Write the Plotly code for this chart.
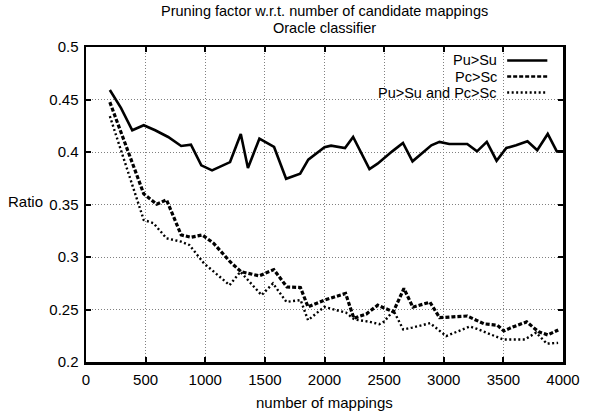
import plotly.graph_objects as go

# ---- data ----
pu_x = [200, 293, 388, 484, 580, 689, 798, 880, 967, 1057, 1208, 1298, 1358, 1454, 1577,
        1678, 1796, 1864, 2000, 2055, 2172, 2240, 2377, 2445, 2568, 2658, 2738, 2896, 2964,
        3046, 3197, 3279, 3361, 3443, 3525, 3607, 3702, 3784, 3872, 3948, 4000]
pu_y = [0.459, 0.442, 0.4207, 0.4255, 0.4207, 0.4143, 0.4057, 0.407, 0.3873, 0.3825, 0.3904,
        0.4172, 0.3847, 0.4127, 0.4048, 0.3745, 0.3793, 0.3927, 0.4045, 0.406, 0.4038, 0.4143,
        0.3838, 0.3889, 0.4006, 0.4086, 0.3911, 0.4064, 0.4096, 0.4076, 0.4076, 0.4006, 0.4096,
        0.3917, 0.4038, 0.4064, 0.4102, 0.4016, 0.4172, 0.4006, 0.4006]

pc_x = [200, 484, 593, 675, 798, 880, 975, 1071, 1208, 1300, 1452, 1575, 1685, 1798, 1862,
        1998, 2177, 2246, 2351, 2446, 2500, 2577, 2666, 2741, 2884, 2965, 3076, 3197, 3340,
        3450, 3504, 3579, 3695, 3797, 3872, 3960]
pc_y = [0.4475, 0.3602, 0.3503, 0.3545, 0.321, 0.3188, 0.321, 0.313, 0.2955, 0.286, 0.282,
        0.288, 0.2714, 0.271, 0.2525, 0.2589, 0.2653, 0.2417, 0.2457, 0.2541, 0.2515, 0.2478,
        0.270, 0.2522, 0.257, 0.2422, 0.243, 0.2438, 0.2363, 0.235, 0.2296, 0.2334, 0.2382,
        0.2287, 0.2258, 0.2305]

both_x = [200, 350, 484, 566, 675, 798, 866, 989, 1204, 1295, 1472, 1568, 1680, 1800, 1862,
          1998, 2180, 2250, 2380, 2460, 2500, 2578, 2660, 2736, 2886, 3020, 3116, 3220, 3280,
          3361, 3497, 3680, 3775, 3864, 3959]
both_y = [0.4341, 0.383, 0.3353, 0.3322, 0.3178, 0.3146, 0.3115, 0.294, 0.2732, 0.286, 0.2637,
          0.2748, 0.2573, 0.2589, 0.2398, 0.2525, 0.247, 0.2406, 0.2382, 0.236, 0.2385, 0.249,
          0.231, 0.2328, 0.237, 0.2247, 0.229, 0.2338, 0.2315, 0.2275, 0.2215, 0.2215, 0.228,
          0.2175, 0.2182]

series_names = ["Pu>Su", "Pc>Sc", "Pu>Su and Pc>Sc"]
x_ticks = [0, 500, 1000, 1500, 2000, 2500, 3000, 3500, 4000]
y_ticks = [0.2, 0.25, 0.3, 0.35, 0.4, 0.45, 0.5]
y_labels = ["0.2", "0.25", "0.3", "0.35", "0.4", "0.45", "0.5"]

# ---- layout geometry (page pixels; body margin removed by post_script) ----
W, H = 592, 412
PL, PR, PT, PB = 86, 573, 47, 362          # plot area edges in page pixels
L, T, R, B = PL, PT, W - PR, H - PB
pw, ph = PR - PL, PB - PT
FONT = "Liberation Sans, Arial, Helvetica, sans-serif"
FS = 15
FS_SMALL = 14.5


def px(xp):
    return (xp - PL) / pw


def py(yp):
    return (PB - yp) / ph


styles = [dict(color="black", width=2.6, dash="solid"),
          dict(color="black", width=3.2, dash="4px,2px"),
          dict(color="black", width=2.4, dash="2px,2.5px")]

fig = go.Figure()
for xs, ys, name, st in zip([pu_x, pc_x, both_x], [pu_y, pc_y, both_y], series_names, styles):
    fig.add_trace(go.Scatter(x=xs, y=ys, mode="lines", name=name, line=st,
                             showlegend=False, cliponaxis=True, hoverinfo="skip"))

axis_common = dict(showline=True, linecolor="black", linewidth=2.5, mirror="ticks",
                   ticks="inside", ticklen=5, tickwidth=2, tickcolor="black",
                   showgrid=True, gridcolor="#808080", gridwidth=1, griddash="1px,2px",
                   zeroline=False, tickfont=dict(family=FONT, size=FS, color="black"))

fig.update_xaxes(range=[0, 4000], tickvals=x_ticks, ticktext=[str(v) for v in x_ticks],
                 ticklabelstandoff=2, **axis_common)
fig.update_yaxes(range=[0.2, 0.5], tickvals=y_ticks, ticktext=y_labels,
                 ticklabelstandoff=2, **axis_common)


def text_at(t, xp, yp, anchor="center", size=FS):
    return dict(text=t, x=px(xp), y=py(yp), xref="paper", yref="paper", showarrow=False,
                xanchor=anchor, yanchor="middle", borderpad=0,
                font=dict(family=FONT, size=size, color="black"))


ann = [text_at("Pruning factor w.r.t. number of candidate mappings", 330, 11, size=FS_SMALL),
       text_at("Oracle classifier", 330, 27.5, size=FS_SMALL),
       text_at("Ratio", 24, 201),
       text_at("number of mappings", 330, 402)]

shapes = []
leg_y = [60.5, 76.5, 92.5]
for name, st, yy in zip(series_names, styles, leg_y):
    ann.append(text_at(name, 507, yy, anchor="right", size=FS_SMALL))
    shapes.append(dict(type="line", xref="paper", yref="paper", x0=px(516), x1=px(557),
                       y0=py(yy), y1=py(yy),
                       line=dict(color="black", width=min(st["width"], 2.4), dash=st["dash"])))

fig.update_layout(width=W, height=H, margin=dict(l=L, r=R, t=T, b=B, pad=0),
                  paper_bgcolor="white", plot_bgcolor="white", annotations=ann, shapes=shapes,
                  font=dict(family=FONT, size=FS, color="black"), showlegend=False,
                  hovermode=False)

fig.write_html("out.html", config={"displayModeBar": False, "staticPlot": True},
               post_script="document.body.style.margin='0';document.body.style.padding='0';")
